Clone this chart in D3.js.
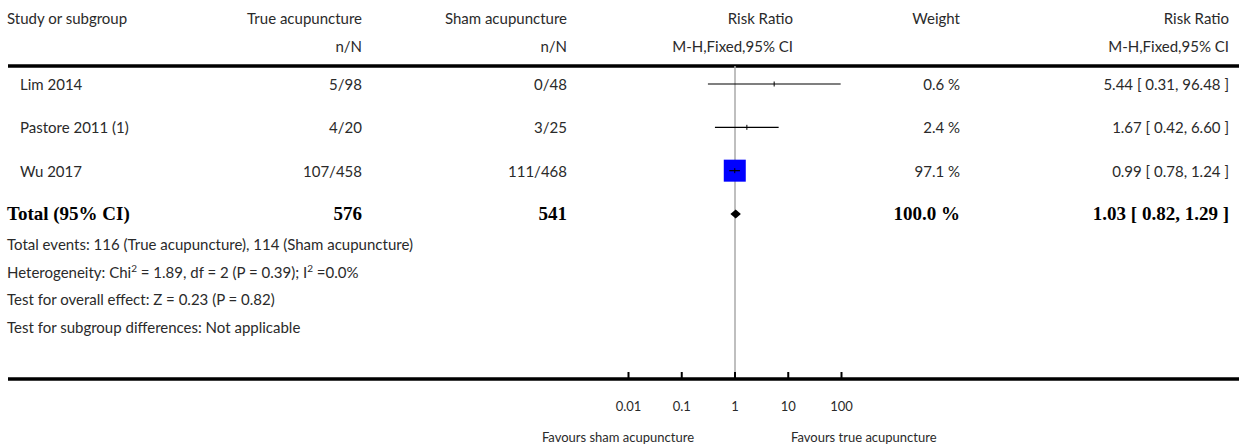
<!DOCTYPE html>
<html>
<head>
<meta charset="utf-8">
<script src="https://cdn.jsdelivr.net/npm/d3@7"></script>
<style>
  body { margin: 0; background: #fff; }
  text { font-family: Lato, "Open Sans", sans-serif; fill: #2a2a2a; }
  .bold { font-family: "Liberation Serif", "Times New Roman", serif; font-weight: bold; fill: #000; }
</style>
</head>
<body>
<svg id="chart" width="1239" height="447"></svg>
<script>
// study rows
const studies = ["Lim 2014", "Pastore 2011 (1)", "Wu 2017"];
const trueEvents = [5, 4, 107];
const trueTotal = [98, 20, 458];
const shamEvents = [0, 3, 111];
const shamTotal = [48, 25, 468];
const weights = [0.6, 2.4, 97.1];
const rr = [5.44, 1.67, 0.99];
const rrLow = [0.31, 0.42, 0.78];
const rrHigh = [96.48, 6.60, 1.24];

// pooled result
const totalLabel = "Total (95% CI)";
const totalTrue = 576;
const totalSham = 541;
const totalWeight = 100.0;
const totalRR = [1.03, 0.82, 1.29];

const footnotes = [
  "Total events: 116 (True acupuncture), 114 (Sham acupuncture)",
  "Heterogeneity: Chi|2| = 1.89, df = 2 (P = 0.39); I|2| =0.0%",
  "Test for overall effect: Z = 0.23 (P = 0.82)",
  "Test for subgroup differences: Not applicable"
];

const axisTicks = [0.01, 0.1, 1, 10, 100];
const tickLabels = ["0.01", "0.1", "1", "10", "100"];
const favours = ["Favours sham acupuncture", "Favours true acupuncture"];

const svg = d3.select("#chart");

// column anchors
const colStudy = 20, colTrue = 362, colSham = 567, colWeight = 960, colRR = 1229;
const fs = 15;

const x = d3.scaleLog().domain([0.01, 100]).range([628.5, 841.5]);
const y = d3.scaleLinear().domain([0, 3]).range([84, 214]);
const boxSide = d3.scaleSqrt().domain([0, 97.1]).range([0, 22]);

const fmt2 = d3.format(".2f");

function txt(xp, yp, s, anchor, size) {
  return svg.append("text").attr("x", xp).attr("y", yp)
    .attr("text-anchor", anchor || "start")
    .attr("font-size", size || fs).text(s);
}

// header
txt(7, 24, "Study or subgroup");
txt(colTrue, 24, "True acupuncture", "end");
txt(colTrue, 52, "n/N", "end");
txt(colSham, 24, "Sham acupuncture", "end");
txt(colSham, 52, "n/N", "end");
txt(793, 24, "Risk Ratio", "end");
txt(793, 52, "M-H,Fixed,95% CI", "end");
txt(colWeight, 24, "Weight", "end");
txt(colRR, 24, "Risk Ratio", "end");
txt(colRR, 52, "M-H,Fixed,95% CI", "end");

svg.append("line").attr("x1", 8).attr("x2", 1239).attr("y1", 66).attr("y2", 66)
  .attr("stroke", "#000").attr("stroke-width", 3.5);

// no-effect line
svg.append("line").attr("x1", x(1)).attr("x2", x(1)).attr("y1", 66).attr("y2", 379)
  .attr("stroke", "#aaa").attr("stroke-width", 1.5);

// study rows
const rows = studies.map((s, i) => ({
  name: s, te: trueEvents[i], tn: trueTotal[i], se: shamEvents[i], sn: shamTotal[i],
  w: weights[i], rr: rr[i], lo: rrLow[i], hi: rrHigh[i], i: i
}));

const g = svg.selectAll("g.row").data(rows).enter().append("g").attr("class", "row");
g.append("text").attr("x", colStudy).attr("y", d => y(d.i) + 6).attr("font-size", fs).text(d => d.name);
g.append("text").attr("x", colTrue).attr("y", d => y(d.i) + 6).attr("font-size", fs)
  .attr("text-anchor", "end").text(d => d.te + "/" + d.tn);
g.append("text").attr("x", colSham).attr("y", d => y(d.i) + 6).attr("font-size", fs)
  .attr("text-anchor", "end").text(d => d.se + "/" + d.sn);
g.append("text").attr("x", colWeight).attr("y", d => y(d.i) + 6).attr("font-size", fs)
  .attr("text-anchor", "end").text(d => d.w.toFixed(1) + " %");
g.append("text").attr("x", colRR).attr("y", d => y(d.i) + 6).attr("font-size", fs)
  .attr("text-anchor", "end").text(d => fmt2(d.rr) + " [ " + fmt2(d.lo) + ", " + fmt2(d.hi) + " ]");

// weight boxes only where they are visible
g.filter(d => boxSide(d.w) > 6).append("rect")
  .attr("x", d => x(d.rr) - boxSide(d.w) / 2)
  .attr("y", d => y(d.i) - boxSide(d.w) / 2)
  .attr("width", d => boxSide(d.w))
  .attr("height", d => boxSide(d.w))
  .attr("fill", "#0000ff");
g.append("line")
  .attr("x1", d => x(d.lo)).attr("x2", d => x(d.hi))
  .attr("y1", d => y(d.i)).attr("y2", d => y(d.i))
  .attr("stroke", "#000").attr("stroke-width", 1.2);
g.append("line")
  .attr("x1", d => x(d.rr)).attr("x2", d => x(d.rr))
  .attr("y1", d => y(d.i) - 2.5).attr("y2", d => y(d.i) + 2.5)
  .attr("stroke", "#000").attr("stroke-width", 1);

// total row
const ty = y(3);
function bold(xp, s, anchor) {
  svg.append("text").attr("class", "bold").attr("x", xp).attr("y", ty + 6)
    .attr("font-size", 19).attr("text-anchor", anchor).text(s);
}
bold(7, totalLabel, "start");
bold(colTrue, totalTrue, "end");
bold(colSham, totalSham, "end");
bold(colWeight, totalWeight.toFixed(1) + " %", "end");
bold(colRR, fmt2(totalRR[0]) + " [ " + fmt2(totalRR[1]) + ", " + fmt2(totalRR[2]) + " ]", "end");

svg.append("path")
  .attr("d", `M${x(totalRR[1])},${ty} L${x(totalRR[0])},${ty - 4.5} L${x(totalRR[2])},${ty} L${x(totalRR[0])},${ty + 4.5} Z`)
  .attr("fill", "#000");

// footnotes, "|2|" marks a superscript
footnotes.forEach((f, i) => {
  const t = svg.append("text").attr("x", 7).attr("y", 250 + i * 27.7).attr("font-size", fs);
  f.split("|").forEach((part, j) => {
    const sp = t.append("tspan").text(part);
    if (j % 2 === 1) sp.attr("font-size", 10).attr("dy", -6);
    else if (j > 0) sp.attr("dy", 6);
  });
});

// axis
svg.append("line").attr("x1", 8).attr("x2", 1239).attr("y1", 379).attr("y2", 379)
  .attr("stroke", "#000").attr("stroke-width", 3.5);
svg.selectAll("line.tick").data(axisTicks).enter().append("line").attr("class", "tick")
  .attr("x1", d => x(d)).attr("x2", d => x(d)).attr("y1", 372).attr("y2", 379)
  .attr("stroke", "#000").attr("stroke-width", 2);
svg.selectAll("text.tl").data(axisTicks).enter().append("text").attr("class", "tl")
  .attr("x", d => x(d)).attr("y", 411).attr("font-size", 13).attr("text-anchor", "middle")
  .text((d, i) => tickLabels[i]);

txt(694, 442, favours[0], "end", 13);
txt(791, 442, favours[1], "start", 13);
</script>
</body>
</html>
